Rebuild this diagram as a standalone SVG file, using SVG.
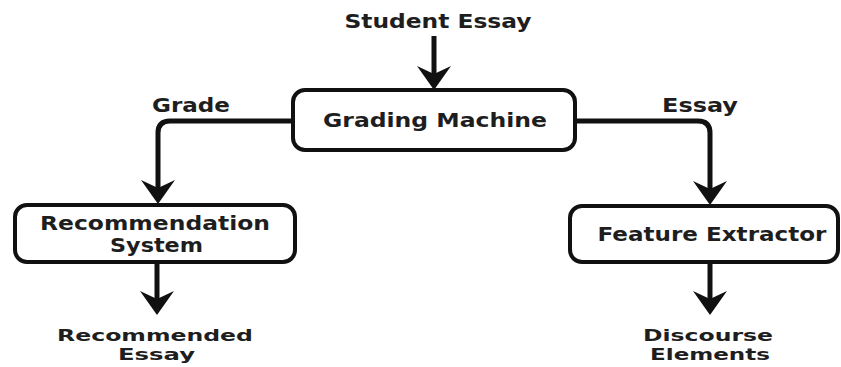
<svg xmlns="http://www.w3.org/2000/svg" width="841" height="367" viewBox="0 0 841 367">
<style>
  .box { fill: #ffffff; stroke: #111111; stroke-width: 4; }
  .lbl { font-family: "DejaVu Sans", "Liberation Sans", sans-serif; font-weight: bold; font-size: 19px; fill: #1e1e1e; text-anchor: middle; }
  .sm { font-size: 16px; }
  .conn { fill: none; stroke: #111111; stroke-width: 5; }
</style>
<defs>
  <marker id="arr" viewBox="0 0 24 36" refX="14" refY="18" markerWidth="24" markerHeight="36" markerUnits="userSpaceOnUse" orient="auto">
    <path d="M0,1 L24,18 L0,35 L8,18 Z" fill="#111111"/>
  </marker>
</defs>
<rect width="841" height="367" fill="#ffffff"/>
<g id="connectors">
  <path class="conn" d="M434,36 L434,80" marker-end="url(#arr)"/>
  <path class="conn" d="M293,121 H170 Q158,121 158,133 V194" marker-end="url(#arr)"/>
  <path class="conn" d="M575,121 H698 Q710,121 710,133 V195" marker-end="url(#arr)"/>
  <path class="conn" d="M157,262 V305" marker-end="url(#arr)"/>
  <path class="conn" d="M710,262 V305" marker-end="url(#arr)"/>
</g>
<g id="student-essay">
  <text class="lbl" x="438" y="28" textLength="187" lengthAdjust="spacingAndGlyphs">Student Essay</text>
</g>
<g id="grading-machine">
  <rect class="box" x="293" y="90" width="282" height="60" rx="12"/>
  <text class="lbl" x="435" y="127" textLength="224" lengthAdjust="spacingAndGlyphs">Grading Machine</text>
</g>
<g id="label-grade">
  <text class="lbl" x="191" y="112" textLength="78" lengthAdjust="spacingAndGlyphs">Grade</text>
</g>
<g id="label-essay">
  <text class="lbl" x="700" y="112" textLength="76" lengthAdjust="spacingAndGlyphs">Essay</text>
</g>
<g id="recommendation-system">
  <rect class="box" x="15" y="205" width="280" height="57" rx="12"/>
  <text class="lbl" x="155" y="230" textLength="230" lengthAdjust="spacingAndGlyphs">Recommendation</text>
  <text class="lbl" x="156.5" y="252" textLength="93" lengthAdjust="spacingAndGlyphs">System</text>
</g>
<g id="feature-extractor">
  <rect class="box" x="570" y="206" width="268" height="56" rx="12"/>
  <text class="lbl" x="712" y="241" textLength="229" lengthAdjust="spacingAndGlyphs">Feature Extractor</text>
</g>
<g id="recommended-essay">
  <text class="lbl sm" x="155" y="341" textLength="196" lengthAdjust="spacingAndGlyphs">Recommended</text>
  <text class="lbl sm" x="156.5" y="360" textLength="77" lengthAdjust="spacingAndGlyphs">Essay</text>
</g>
<g id="discourse-elements">
  <text class="lbl sm" x="708" y="341" textLength="130" lengthAdjust="spacingAndGlyphs">Discourse</text>
  <text class="lbl sm" x="710" y="360" textLength="120" lengthAdjust="spacingAndGlyphs">Elements</text>
</g>
</svg>
